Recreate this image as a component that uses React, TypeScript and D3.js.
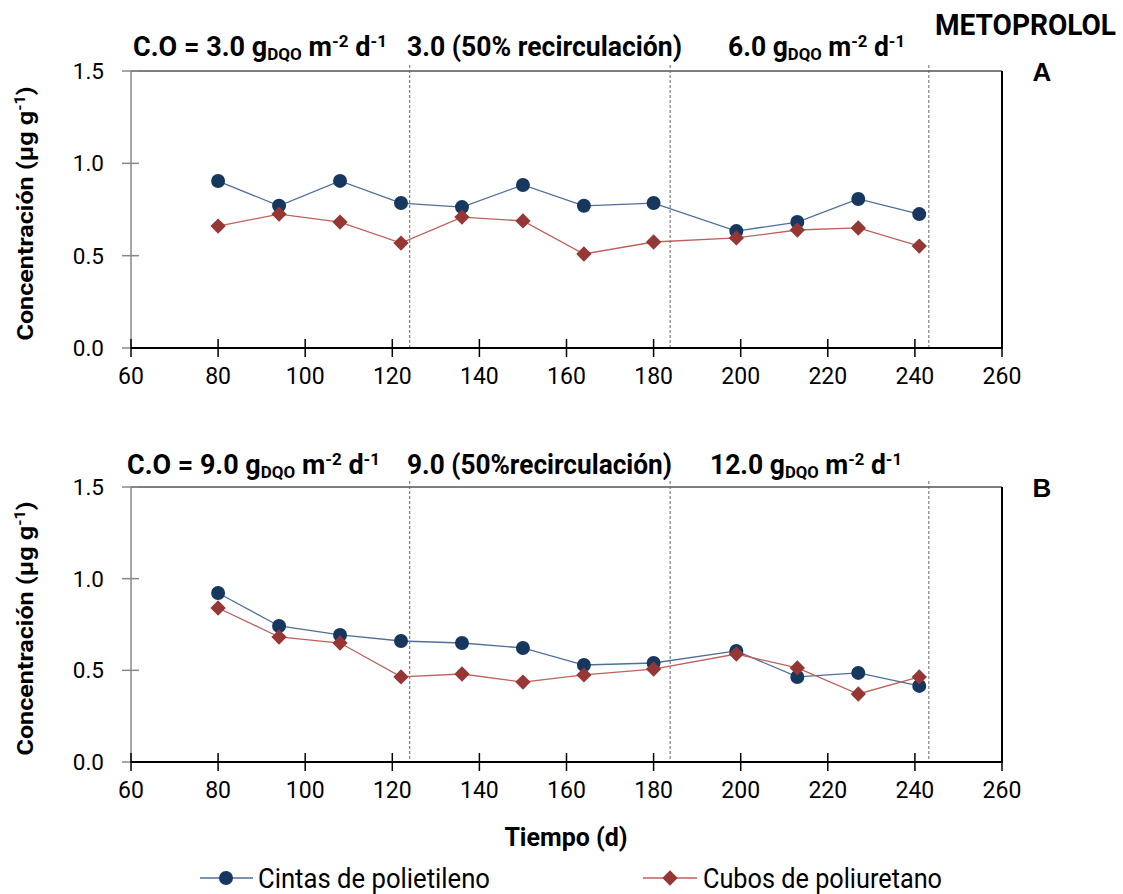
import React from "react";
import * as d3 from "d3";

const days = [80, 94, 108, 122, 136, 150, 164, 180, 199, 213, 227, 241];
const cintasA = [0.904, 0.77, 0.905, 0.785, 0.763, 0.883, 0.77, 0.785, 0.633, 0.682, 0.807, 0.725];
const cubosA = [0.66, 0.725, 0.682, 0.568, 0.709, 0.688, 0.509, 0.574, 0.596, 0.639, 0.65, 0.552];
const cintasB = [0.922, 0.742, 0.693, 0.66, 0.649, 0.622, 0.529, 0.54, 0.606, 0.464, 0.486, 0.415];
const cubosB = [0.84, 0.682, 0.649, 0.464, 0.48, 0.436, 0.475, 0.507, 0.589, 0.513, 0.371, 0.464];
const phaseBounds = [124, 183.8, 243.2];
const xTicks = [60, 80, 100, 120, 140, 160, 180, 200, 220, 240, 260];
const yTicks = [0, 0.5, 1.0, 1.5];
const seriesNames = ["Cintas de polietileno", "Cubos de poliuretano"];

const BLUE = "#17375e";
const BLUE_LINE = "#4f6f98";
const RED = "#953735";
const RED_LINE = "#c0605d";
const NARROW = "'Liberation Sans Narrow', 'Arial Narrow', 'Roboto', sans-serif";
const SANS = "Roboto, 'Liberation Sans', sans-serif";

const x = d3.scaleLinear().domain([60, 260]).range([131, 1002]);

type HeaderSeg = { parts: { t: string; k?: "sub" | "sup" }[]; x: number; w: number };

function Header({ segs, y }: { segs: HeaderSeg[]; y: number }) {
  return (
    <g>
      {segs.map((s, i) => (
        <text key={i} x={s.x} y={y} fontFamily={NARROW} fontWeight="bold" fontSize={27} fill="#000"
          textLength={s.w} lengthAdjust="spacingAndGlyphs">
          {s.parts.map((p, j) => (
            <tspan key={j} fontSize={p.k ? 17 : 27}
              baselineShift={p.k === "sub" ? "-25%" : p.k === "sup" ? "55%" : undefined}>
              {p.t}
            </tspan>
          ))}
        </text>
      ))}
    </g>
  );
}

function Panel({ top, bottom, cintas, cubos, label, segs, headerY }: {
  top: number; bottom: number; cintas: number[]; cubos: number[]; label: string; segs: HeaderSeg[]; headerY: number;
}) {
  const y = d3.scaleLinear().domain([0, 1.5]).range([bottom, top]);
  const line = d3.line<number>().x((_, i) => x(days[i])).y((v) => y(v));
  const diamond = d3.symbol().type(d3.symbolDiamond2).size(150)();
  const [x0, x1] = x.range();
  return (
    <g>
      <Header segs={segs} y={headerY} />
      <text x={1042} y={top + 10} fontFamily="'Liberation Sans', Arial, sans-serif" fontWeight="bold" fontSize={26} textAnchor="middle">{label}</text>
      <line x1={x0} x2={x1} y1={top} y2={top} stroke="#555" strokeWidth={1.5} />
      <line x1={x1} x2={x1} y1={top} y2={bottom + 1} stroke="#000" strokeWidth={2} />
      {phaseBounds.map((b, i) => (
        <line key={i} x1={x(b)} x2={x(b)} y1={top - 6} y2={bottom} stroke="#666" strokeWidth={1} strokeDasharray="3,2" />
      ))}
      <line x1={x0} x2={x0} y1={top} y2={bottom} stroke="#888" strokeWidth={1.5} />
      {yTicks.map((t) => (
        <g key={t}>
          <line x1={x0 - 9} x2={x0 + 8} y1={y(t)} y2={y(t)} stroke="#888" strokeWidth={1.5} />
          <text x={104} y={y(t)} dy="0.35em" textAnchor="end" fontFamily={SANS} fontSize={22.5} fill="#000">{t.toFixed(1)}</text>
        </g>
      ))}
      <line x1={x0} x2={x1} y1={bottom} y2={bottom} stroke="#000" strokeWidth={2} />
      {xTicks.map((t) => (
        <g key={t}>
          <line x1={x(t)} x2={x(t)} y1={bottom - 9} y2={bottom + 9} stroke="#000" strokeWidth={1.5} />
          <text x={x(t)} y={bottom + 36} textAnchor="middle" fontFamily={SANS} fontSize={23} fill="#000">{t}</text>
        </g>
      ))}
      <text transform={`translate(33,${(top + bottom) / 2 + 4}) rotate(-90)`} textAnchor="middle" fontFamily={SANS} fontWeight="bold" fontSize={22}
        textLength={254} lengthAdjust="spacingAndGlyphs">
        Concentración (µg g<tspan fontSize={14} baselineShift="55%">-1</tspan>)
      </text>
      <path d={line(cintas) || ""} fill="none" stroke={BLUE_LINE} strokeWidth={1.3} />
      <path d={line(cubos) || ""} fill="none" stroke={RED_LINE} strokeWidth={1.3} />
      {cintas.map((v, i) => (
        <circle key={"c" + i} cx={x(days[i])} cy={y(v)} r={7} fill={BLUE} />
      ))}
      {cubos.map((v, i) => (
        <path key={"d" + i} d={diamond || ""} transform={`translate(${x(days[i])},${y(v)})`} fill={RED} />
      ))}
    </g>
  );
}

const segsA: HeaderSeg[] = [
  { x: 133, w: 254, parts: [{ t: "C.O = 3.0 g" }, { t: "DQO", k: "sub" }, { t: " m" }, { t: "-2", k: "sup" }, { t: " d" }, { t: "-1", k: "sup" }] },
  { x: 407, w: 275, parts: [{ t: "3.0 (50% recirculación)" }] },
  { x: 728, w: 177, parts: [{ t: "6.0 g" }, { t: "DQO", k: "sub" }, { t: " m" }, { t: "-2", k: "sup" }, { t: " d" }, { t: "-1", k: "sup" }] },
];
const segsB: HeaderSeg[] = [
  { x: 127, w: 253, parts: [{ t: "C.O = 9.0 g" }, { t: "DQO", k: "sub" }, { t: " m" }, { t: "-2", k: "sup" }, { t: " d" }, { t: "-1", k: "sup" }] },
  { x: 407, w: 265, parts: [{ t: "9.0 (50%recirculación)" }] },
  { x: 710, w: 192, parts: [{ t: "12.0 g" }, { t: "DQO", k: "sub" }, { t: " m" }, { t: "-2", k: "sup" }, { t: " d" }, { t: "-1", k: "sup" }] },
];

export default function App() {
  const diamond = d3.symbol().type(d3.symbolDiamond2).size(150)();
  return (
    <svg width={1123} height={894} style={{ position: "absolute", left: 0, top: 0, background: "#fff" }}>
      <rect width={1123} height={894} fill="#fff" />
      <text x={935} y={35} fontFamily={NARROW} fontWeight="bold" fontSize={29} textLength={181} lengthAdjust="spacingAndGlyphs">METOPROLOL</text>
      <Panel top={71} bottom={348} cintas={cintasA} cubos={cubosA} label="A" segs={segsA} headerY={56} />
      <Panel top={487} bottom={762} cintas={cintasB} cubos={cubosB} label="B" segs={segsB} headerY={474} />
      <text x={566} y={846} textAnchor="middle" fontFamily={SANS} fontWeight="bold" fontSize={25}>Tiempo (d)</text>
      <line x1={200} x2={253} y1={878} y2={878} stroke={BLUE_LINE} strokeWidth={1.5} />
      <circle cx={226} cy={878} r={7} fill={BLUE} />
      <text x={258} y={888} fontFamily={NARROW} fontSize={27} textLength={232} lengthAdjust="spacingAndGlyphs">{seriesNames[0]}</text>
      <line x1={643} x2={697} y1={878} y2={878} stroke={RED_LINE} strokeWidth={1.5} />
      <path d={diamond || ""} transform="translate(670,878)" fill={RED} />
      <text x={703} y={888} fontFamily={NARROW} fontSize={27} textLength={239} lengthAdjust="spacingAndGlyphs">{seriesNames[1]}</text>
    </svg>
  );
}
